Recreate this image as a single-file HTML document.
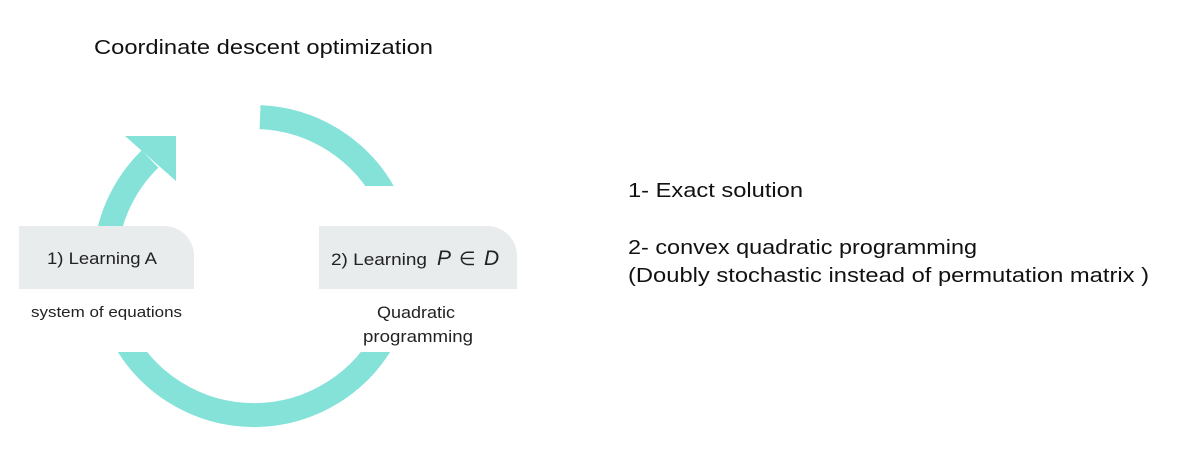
<!DOCTYPE html>
<html><head><meta charset="utf-8"><style>
html,body{margin:0;padding:0;background:#fff;}
svg{display:block;}
text{font-family:"Liberation Sans",sans-serif;}
</style></head><body>
<svg width="1182" height="470" viewBox="0 0 1182 470" xmlns="http://www.w3.org/2000/svg">
<rect width="1182" height="470" fill="#fff"/>
<g fill="none" stroke="#84e2d8" stroke-width="24">
<path d="M105.9,250 A149,149 0 0 1 150,159"/>
<path d="M260,117.1 A149,149 0 0 1 387.6,200"/>
<path d="M119.4,330 A149,149 0 0 0 388.6,330"/>
</g>
<rect x="300" y="186" width="240" height="40" fill="#fff"/>
<rect x="0" y="289" width="540" height="63" fill="#fff"/>
<polygon points="125,136 176,136 176,181" fill="#84e2d8"/>
<path d="M19,226 H164 A30,30 0 0 1 194,256 V289 H19 Z" fill="#e8eced"/>
<path d="M319,226 H487 A30,30 0 0 1 517,256 V289 H319 Z" fill="#e8eced"/>
<text x="47" y="264" font-size="17" fill="#222" textLength="110" lengthAdjust="spacingAndGlyphs">1) Learning A</text>
<text x="331" y="265" font-size="17" fill="#222" textLength="96" lengthAdjust="spacingAndGlyphs">2) Learning</text>
<text x="437" y="265" font-size="21" font-style="italic" fill="#222" font-family="Liberation Serif, serif">P</text>
<text x="459" y="265" font-size="19" fill="#222" font-family="DejaVu Serif, serif">∈</text>
<text x="484" y="265" font-size="21" font-style="italic" fill="#222" font-family="Liberation Serif, serif">D</text>
<text x="31" y="317" font-size="15" fill="#222" textLength="151" lengthAdjust="spacingAndGlyphs">system of equations</text>
<text x="377" y="318" font-size="17" fill="#222" textLength="78" lengthAdjust="spacingAndGlyphs">Quadratic</text>
<text x="363" y="342" font-size="17" fill="#222" textLength="110" lengthAdjust="spacingAndGlyphs">programming</text>
<text x="94" y="54" font-size="20" fill="#111" textLength="339" lengthAdjust="spacingAndGlyphs">Coordinate descent optimization</text>
<text x="628" y="197" font-size="20" fill="#111" textLength="175" lengthAdjust="spacingAndGlyphs">1- Exact solution</text>
<text x="628" y="254" font-size="20" fill="#111" textLength="349" lengthAdjust="spacingAndGlyphs">2- convex quadratic programming</text>
<text x="628" y="282" font-size="20" fill="#111" textLength="521" lengthAdjust="spacingAndGlyphs">(Doubly stochastic instead of permutation matrix )</text>
</svg>
</body></html>
